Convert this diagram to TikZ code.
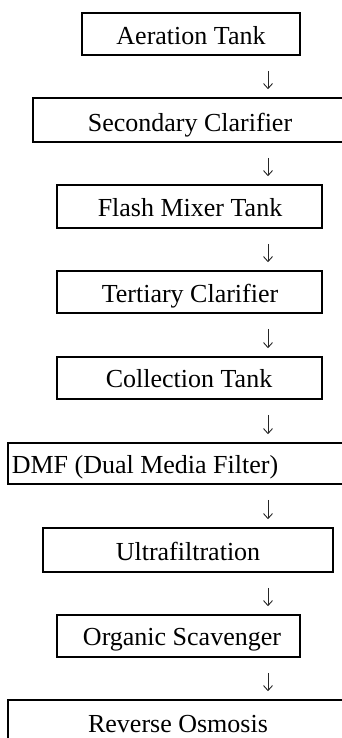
\documentclass[tikz,border=0pt]{standalone}
\usepackage{fontspec}
\setmainfont{Liberation Serif}
\usetikzlibrary{calc,arrows.meta}
\begin{document}
\begin{tikzpicture}[x=1pt,y=-1pt,
  box/.style={draw=black,line width=1.6pt,rectangle,inner sep=0pt},
  lbl/.style={anchor=base,inner sep=0pt,font=\fontsize{26}{30}\selectfont},
  flow/.style={draw=black!85,line width=0.9pt,-{Straight Barb[length=5pt,width=9pt,line width=0.9pt]}}]
\useasboundingbox (0,0) rectangle (342,738);
\newcommand{\mkbox}[5]{\node[box,minimum width={#4-#2},minimum height={#5-#3}] (#1) at ({(#2+#4)/2},{(#3+#5)/2}) {};}
\mkbox{b1}{82}{13}{300}{55}
\mkbox{b2}{33}{98}{348}{142}
\mkbox{b3}{57}{185}{322}{228}
\mkbox{b4}{57}{271}{322}{313}
\mkbox{b5}{57}{357}{322}{399}
\mkbox{b6}{8}{443}{350}{484}
\mkbox{b7}{43}{528}{333}{572}
\mkbox{b8}{57}{615}{300}{657}
\mkbox{b9}{8}{700}{350}{760}
\node[lbl] (t1) at (191,45) {Aeration Tank};
\node[lbl] (t2) at (190,132) {Secondary Clarifier};
\node[lbl] (t3) at (190,216) {Flash Mixer Tank};
\node[lbl] (t4) at (190,302) {Tertiary Clarifier};
\node[lbl] (t5) at (189,387) {Collection Tank};
\node[lbl] (t6) at (145,473) {DMF (Dual Media Filter)};
\node[lbl] (t7) at (188,560) {Ultrafiltration};
\node[lbl] (t8) at (182,645) {Organic Scavenger};
\node[lbl] (t9) at (178,732) {Reverse Osmosis};
\coordinate (ax) at (268,0);
\foreach \a/\b in {b1/b2,b2/b3,b3/b4,b4/b5,b5/b6,b6/b7,b7/b8,b8/b9}
  \draw[flow] ($(\a.south -| ax)+(0,15)$) -- ($(\b.north -| ax)+(0,-8)$);
\end{tikzpicture}
\end{document}
